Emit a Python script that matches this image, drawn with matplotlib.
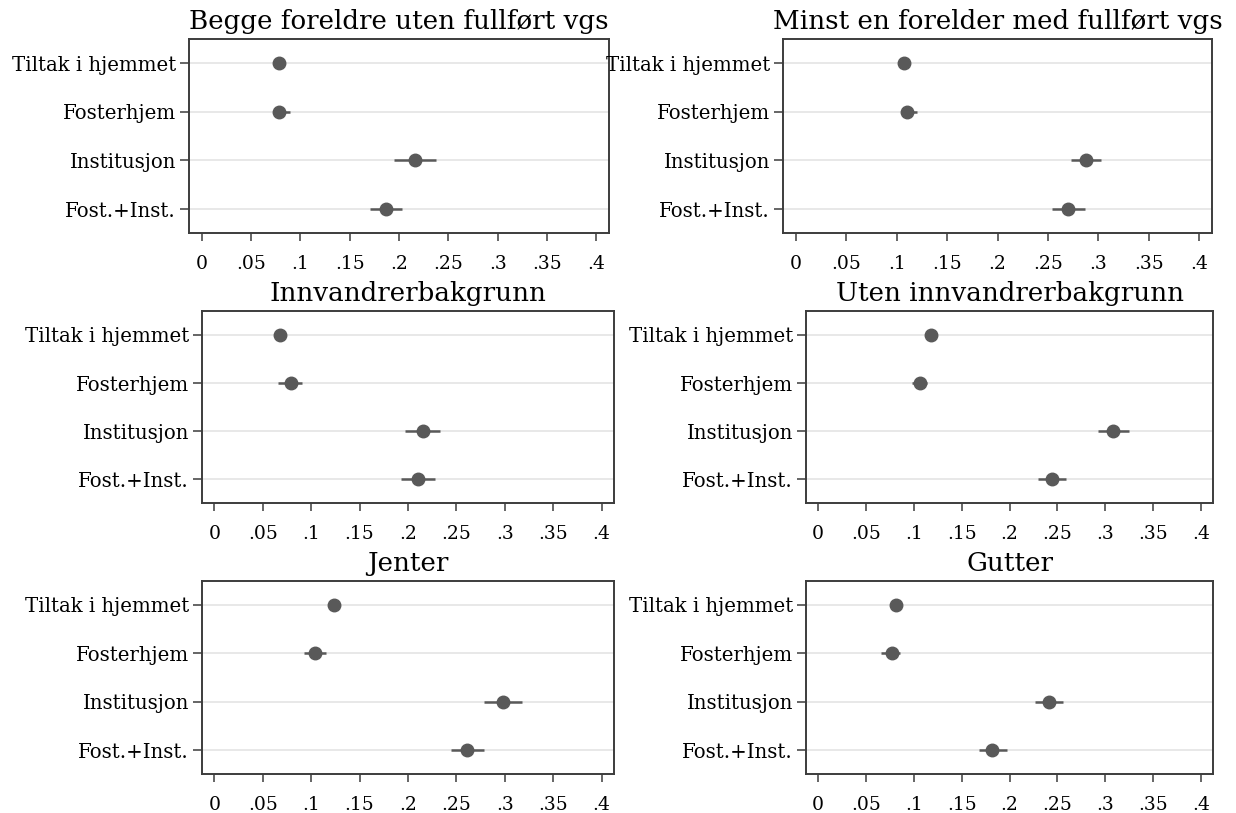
import numpy as np
import matplotlib
matplotlib.use("Agg")
import matplotlib.pyplot as plt

plt.rcParams["font.family"] = ["DejaVu Serif"]

categories = ["Tiltak i hjemmet", "Fosterhjem", "Institusjon", "Fost.+Inst."]
xticks = [0, 0.05, 0.1, 0.15, 0.2, 0.25, 0.3, 0.35, 0.4]
xtick_labels = ["0", ".05", ".1", ".15", ".2", ".25", ".3", ".35", ".4"]

titles = [
    "Begge foreldre uten fullført vgs",
    "Minst en forelder med fullført vgs",
    "Innvandrerbakgrunn",
    "Uten innvandrerbakgrunn",
    "Jenter",
    "Gutter",
]

# point estimates and 95% CI per panel
est_begge = [0.078, 0.0786, 0.216, 0.187]
lo_begge = [0.0745, 0.072, 0.195, 0.1705]
hi_begge = [0.0815, 0.0895, 0.2375, 0.2034]

est_minst = [0.107, 0.1107, 0.288, 0.2704]
lo_minst = [0.104, 0.105, 0.273, 0.2544]
hi_minst = [0.110, 0.120, 0.303, 0.2865]

est_innv = [0.068, 0.0788, 0.2154, 0.210]
lo_innv = [0.064, 0.066, 0.197, 0.1925]
hi_innv = [0.072, 0.091, 0.233, 0.228]

est_uten = [0.1176, 0.106, 0.3087, 0.2442]
lo_uten = [0.115, 0.0977, 0.2926, 0.2293]
hi_uten = [0.120, 0.1138, 0.3248, 0.259]

est_jenter = [0.124, 0.1037, 0.298, 0.261]
lo_jenter = [0.120, 0.093, 0.278, 0.244]
hi_jenter = [0.128, 0.115, 0.318, 0.279]

est_gutter = [0.0818, 0.077, 0.241, 0.182]
lo_gutter = [0.079, 0.066, 0.227, 0.168]
hi_gutter = [0.085, 0.086, 0.256, 0.197]

panels = [
    (est_begge, lo_begge, hi_begge),
    (est_minst, lo_minst, hi_minst),
    (est_innv, lo_innv, hi_innv),
    (est_uten, lo_uten, hi_uten),
    (est_jenter, lo_jenter, hi_jenter),
    (est_gutter, lo_gutter, hi_gutter),
]

W, H = 1236, 813
# axes boxes in pixels: left, right, top, bottom
boxes = [
    (189, 609, 39, 233),
    (783, 1212, 39, 233),
    (202, 614, 311, 503),
    (806, 1213, 311, 503),
    (202, 614, 581, 774),
    (806, 1213, 581, 774),
]

dot_color = "#595959"
frame_color = "#3c3c3c"

fig = plt.figure(figsize=(W / 100, H / 100), dpi=100)

for (est, lo, hi), title, (l, r, t, b) in zip(panels, titles, boxes):
    ax = fig.add_axes([l / W, 1 - b / H, (r - l) / W, (b - t) / H])
    y = np.arange(1, len(categories) + 1)

    ax.hlines(y, lo, hi, color=dot_color, linewidth=1.8, zorder=3)
    ax.plot(est, y, "o", color=dot_color, markersize=9, zorder=4)

    ax.set_yticks(y)
    ax.set_yticklabels(categories)
    ax.set_xticks(xticks)
    ax.set_xticklabels(xtick_labels)
    ax.set_xlim(-0.0128, 0.4128)
    ax.set_ylim(4.49, 0.505)

    ax.grid(axis="y", color="#e6e6e6", linewidth=1.3, zorder=0)
    ax.set_axisbelow(True)
    for s in ax.spines.values():
        s.set_color(frame_color)
        s.set_linewidth(1.4)

    ax.tick_params(axis="y", direction="out", length=6.5, width=1.1,
                   color=frame_color, pad=3, labelsize=14.2)
    ax.tick_params(axis="x", direction="out", length=6, width=1.1,
                   color=frame_color, pad=10, labelsize=13.5)
    ax.set_title(title, fontsize=18.8, pad=7)

fig.savefig("out.png", dpi=100)
